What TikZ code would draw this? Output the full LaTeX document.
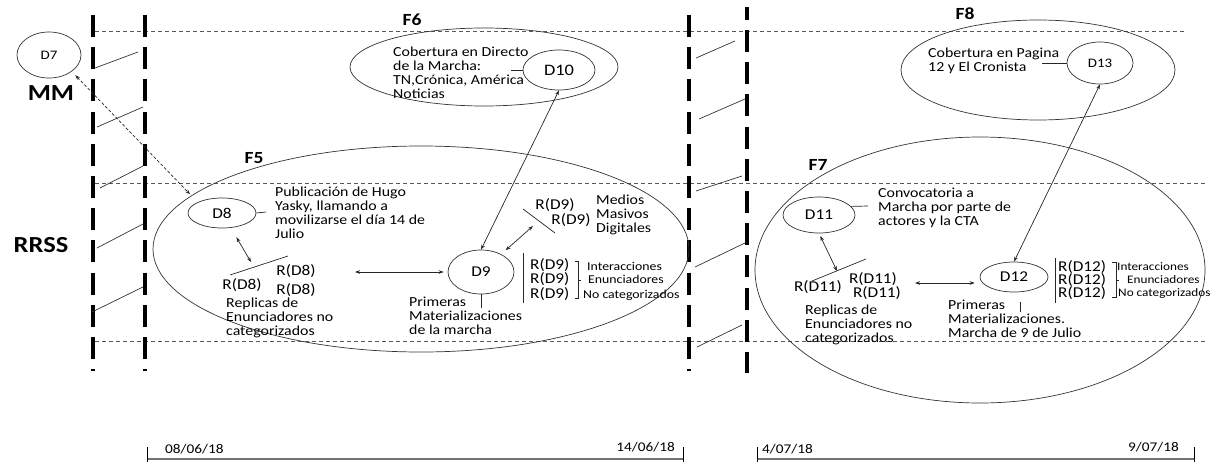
\documentclass[tikz,border=0pt]{standalone}
\usepackage{fontspec}
\setmainfont{Carlito}[FakeStretch=1.15]
\usetikzlibrary{arrows.meta,shapes.geometric}

\newcommand\txtdesc{\fontsize{13.8}{13.9}\selectfont}
\newcommand\txtdate{\fontsize{13.3}{13.3}\selectfont}
\newcommand\txtrep{\fontsize{15}{15}\selectfont}
\newcommand\txtcat{\fontsize{12}{12}\selectfont}
\newcommand\txtdoc{\fontsize{15}{15}\selectfont}
\newcommand\txtdocsm{\fontsize{13}{13}\selectfont}
\newcommand\txtdocbig{\fontsize{16}{16}\selectfont}
\newcommand\txthead{\fontsize{23}{23}\selectfont\bfseries}
\newcommand\txtstage{\fontsize{17}{17}\selectfont\bfseries}

\begin{document}
\begin{tikzpicture}[x=1pt,y=-1pt,
  bar/.style={line width=4pt, dash pattern=on 22pt off 10.2pt},
  guide/.style={black!65, line width=0.6pt, dash pattern=on 4pt off 3pt},
  hatch/.style={black!80, line width=0.7pt},
  stage/.style={draw=black!80, line width=0.7pt, ellipse, inner sep=0pt},
  doc/.style={draw=black!80, line width=0.7pt, ellipse, inner sep=0pt, font=\txtdoc},
  desc/.style={anchor=north west, inner sep=0pt, align=left, font=\txtdesc},
  rep/.style={inner sep=0pt, font=\txtrep},
  cat/.style={anchor=west, inner sep=0pt, font=\txtcat},
  head/.style={inner sep=0pt, font=\txthead},
  stagelabel/.style={inner sep=0pt, font=\txtstage},
  link/.style={black!85, line width=0.7pt},
  biarrow/.style={link, {Stealth[length=5pt,width=3.6pt]}-{Stealth[length=5pt,width=3.6pt]}},
  mediaarrow/.style={black!85, line width=0.7pt, dash pattern=on 3pt off 2pt,
    {Stealth[length=5pt,width=3.6pt]}-{Stealth[length=5pt,width=3.6pt]}},
  period/.style={black!55, line width=1.2pt},
  periodend/.style={black, line width=0.8pt},
  date/.style={inner sep=0pt, font=\txtdate}]

\useasboundingbox (0,0) rectangle (1228,463);

% ---- layer guides (MM / RRSS bands)
\draw[guide] (95,31) -- (1185,31);
\draw[guide] (95,183) -- (1207,183);
\draw[guide] (95,341) -- (1207,341);

% ---- period separators
\draw[bar] (93,15) -- (93,371);
\draw[bar] (145,15) -- (145,371);
\draw[bar] (689,15) -- (689,371);
\draw[bar, dash phase=9.2pt] (747,7) -- (747,373);

% hatching between the separators
\draw[hatch] (95,68) -- (138,52);
\draw[hatch] (97,127) -- (143,107);
\draw[hatch] (100,188) -- (143,166);
\draw[hatch] (97,248) -- (143,224);
\draw[hatch] (92,312) -- (143,287);
\draw[hatch] (696,58) -- (735,41);
\draw[hatch] (699,119) -- (745,99);
\draw[hatch] (696,191) -- (742,176);
\draw[hatch] (695,267) -- (745,243);
\draw[hatch] (697,347) -- (742,325);

% ---- layer names
\node[doc, minimum width=64, minimum height=46, font=\txtdocsm] (d7) at (49,55) {D7};
\node[head] (mm) at (51,93) {MM};
\node[head] (rrss) at (41,245) {RRSS};

% ---- F6: live coverage
\node[stage, minimum width=268, minimum height=78] (f6) at (484,67) {};
\node[stagelabel] (lf6) at (412,20) {F6};
\node[doc, minimum width=72, minimum height=40, font=\txtdocbig] (d10) at (559,70) {D10};
\node[desc] (t10) at (393,47) {\strut Cobertura en Directo\\de la Marcha:\\TN,Crónica, América\\Noticias};
\coordinate (t10e) at (511,70);
\draw[link] (t10e) -- (d10.west);

% ---- F8: press coverage
\node[stage, minimum width=274, minimum height=100] (f8) at (1038,70) {};
\node[stagelabel] (lf8) at (965,14) {F8};
\node[doc, minimum width=66, minimum height=42, font=\txtdocsm] (d13) at (1100,63) {D13};
\node[desc] (t13) at (928,48) {\strut Cobertura en Pagina\\12 y El Cronista};
\coordinate (t13e) at (1042,63);
\draw[link] (t13e) -- (d13.west);

% ---- F5
\node[stage, minimum width=536, minimum height=206] (f5) at (421,249) {};
\node[stagelabel] (lf5) at (254,158) {F5};
\node[doc, minimum width=68, minimum height=30] (d8) at (222,213) {D8};
\node[desc] (t8) at (275,187) {\strut Publicación de Hugo\\Yasky, llamando a\\movilizarse el día 14 de\\Julio};
\coordinate (t8w) at (266,212);
\draw[link] (d8.east) -- (t8w);

\coordinate (r8a) at (230,275);
\coordinate (r8b) at (288,256);
\coordinate (r8top) at (251,262);
\draw[link] (r8a) -- (r8b);
\draw[biarrow, shorten <=11pt] (d8) -- (r8top);
\node[rep] (r8l) at (242,285) {R(D8)};
\node[rep] (r8m) at (296,271) {R(D8)};
\node[rep] (r8n) at (296,290) {R(D8)};
\node[desc] (t8r) at (226,298) {\strut Replicas de\\Enunciadores no\\categorizados};

\node[doc, minimum width=66, minimum height=44] (d9) at (481,272) {D9};
\coordinate (r8h) at (355,272);
\draw[biarrow, shorten >=4pt] (r8h) -- (d9.west);
\coordinate (d9p) at (481,308);
\draw[link] (d9.south) -- (d9p);
\node[desc] (t9) at (409,297) {\strut Primeras\\Materializaciones\\de la marcha};

\coordinate (r9top) at (533,226);
\draw[biarrow, shorten <=6pt] (d9) -- (r9top);
\draw[link] (523,209) -- (555,233);
\node[rep] (r9a) at (555,205) {R(D9)};
\node[rep] (r9b) at (571,220) {R(D9)};
\node[desc] (t9m) at (596,195) {\strut Medios\\Masivos\\Digitales};

\draw[link] (523,253) -- (523,303);
\node[rep, anchor=west] (r9c) at (530,265) {R(D9)};
\node[rep, anchor=west] (r9d) at (530,279) {R(D9)};
\node[rep, anchor=west] (r9e) at (530,294) {R(D9)};
\draw[link] (575,261) -- (578,261) -- (578,298) -- (575,298);
\draw[link] (578,280) -- (581,280);
\node[cat] (c9a) at (587,266) {Interacciones};
\node[cat] (c9b) at (588,279) {Enunciadores};
\node[cat] (c9c) at (583,295) {No categorizados};

\draw[biarrow] (d9.north) -- (d10.south);
\draw[mediaarrow, shorten <=5pt, shorten >=11pt] (d7.-36) -- (d8.156);

% ---- F7
\node[stage, minimum width=450, minimum height=266] (f7) at (980,270) {};
\node[stagelabel] (lf7) at (818,165) {F7};
\node[doc, minimum width=72, minimum height=36] (d11) at (819,215) {D11};
\node[desc] (t11) at (878,188) {\strut Convocatoria a\\Marcha por parte de\\actores y la CTA};
\coordinate (t11w) at (868,206);
\draw[link] (d11.15) -- (t11w);

\coordinate (r11top) at (837,271);
\draw[link] (812,281) -- (866,259);
\draw[biarrow, shorten <=3pt] (d11.south) -- (r11top);
\node[rep] (r11l) at (818,287) {R(D11)};
\node[rep] (r11m) at (873,279) {R(D11)};
\node[rep] (r11n) at (877,293) {R(D11)};
\node[desc] (t11r) at (805,305) {\strut Replicas de\\Enunciadores no\\categorizados};

\node[doc, minimum width=68, minimum height=30] (d12) at (1014,277) {D12};
\coordinate (r11h) at (915,283);
\draw[biarrow, shorten >=5pt] (r11h) -- (d12.west |- r11h);
\draw[link] (1020,302) -- (1020,312);
\node[desc] (t12) at (948,300) {\strut Primeras\\Materializaciones.\\Marcha de 9 de Julio};

\draw[link] (1055,258) -- (1055,303);
\node[rep, anchor=west] (r12a) at (1058,267) {R(D12)};
\node[rep, anchor=west] (r12b) at (1058,280) {R(D12)};
\node[rep, anchor=west] (r12c) at (1058,293) {R(D12)};
\draw[link] (1112,262) -- (1116,262) -- (1116,297) -- (1112,297);
\draw[link] (1116,280) -- (1119,280);
\node[cat, font=\fontsize{11.5}{11.5}\selectfont] (c12a) at (1117,267) {Interacciones};
\node[cat, font=\fontsize{11.5}{11.5}\selectfont] (c12b) at (1127,280) {Enunciadores};
\node[cat, font=\fontsize{11.5}{11.5}\selectfont] (c12c) at (1118,293) {No categorizados};

\draw[biarrow] (d13.south) -- (d12.north);

% ---- time axis
\draw[period] (147,459) -- (683,459);
\draw[periodend] (147,447) -- (147,462);
\draw[periodend] (683,447) -- (683,462);
\node[date, anchor=west] (p1a) at (165,449) {08/06/18};
\node[date, anchor=east] (p1b) at (675,447) {14/06/18};

\draw[period] (757,459) -- (1194,459);
\draw[periodend] (757,447) -- (757,462);
\draw[periodend] (1194,447) -- (1194,462);
\node[date, anchor=west] (p2a) at (762,449) {4/07/18};
\node[date, anchor=east] (p2b) at (1179,447) {9/07/18};
\end{tikzpicture}
\end{document}
